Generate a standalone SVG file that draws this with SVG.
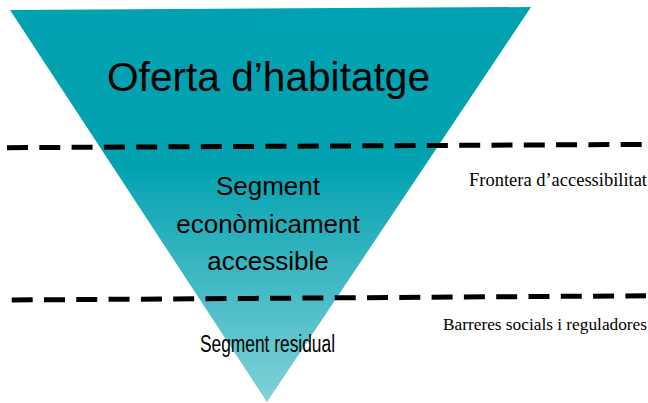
<svg xmlns="http://www.w3.org/2000/svg" width="648" height="403" viewBox="0 0 648 403">
  <style>
    .sans { font-family: "Liberation Sans", Arial, sans-serif; fill: #000; }
    .serif { font-family: "Liberation Serif", "Times New Roman", serif; fill: #000; }
    .dash { stroke: #000; stroke-width: 5; stroke-dasharray: 21 11.3; fill: none; }
  </style>
  <defs>
    <linearGradient id="tri" gradientUnits="userSpaceOnUse" x1="0" y1="8" x2="0" y2="402">
      <stop offset="0" stop-color="#00a1b0"/>
      <stop offset="0.4" stop-color="#03a2b1"/>
      <stop offset="1" stop-color="#82d1d7"/>
    </linearGradient>
  </defs>
  <rect width="648" height="403" fill="#ffffff"/>
  <g id="funnel">
    <polygon points="10,10 531,7 267,402" fill="url(#tri)"/>
  </g>
  <g id="title">
    <text class="sans" x="107" y="91" font-size="41.5" textLength="323" lengthAdjust="spacingAndGlyphs">Oferta d’habitatge</text>
  </g>
  <g id="segment-accessible">
    <text class="sans" x="268" y="195" font-size="26" text-anchor="middle">Segment</text>
    <text class="sans" x="268" y="233" font-size="26" text-anchor="middle">econòmicament</text>
    <text class="sans" x="268" y="270" font-size="26" text-anchor="middle">accessible</text>
  </g>
  <g id="segment-residual">
    <text class="sans" x="200" y="352" font-size="23" textLength="135" lengthAdjust="spacingAndGlyphs">Segment residual</text>
  </g>
  <g id="connectors">
    <line class="dash" x1="7" y1="147.7" x2="646" y2="144.4"/>
    <line class="dash" x1="11.7" y1="300" x2="646" y2="295.8"/>
  </g>
  <g id="label-frontera">
    <text class="serif" x="469" y="186" font-size="18" textLength="178" lengthAdjust="spacingAndGlyphs">Frontera d’accessibilitat</text>
  </g>
  <g id="label-barreres">
    <text class="serif" x="443" y="330" font-size="17.5" textLength="204" lengthAdjust="spacingAndGlyphs">Barreres socials i reguladores</text>
  </g>
</svg>
